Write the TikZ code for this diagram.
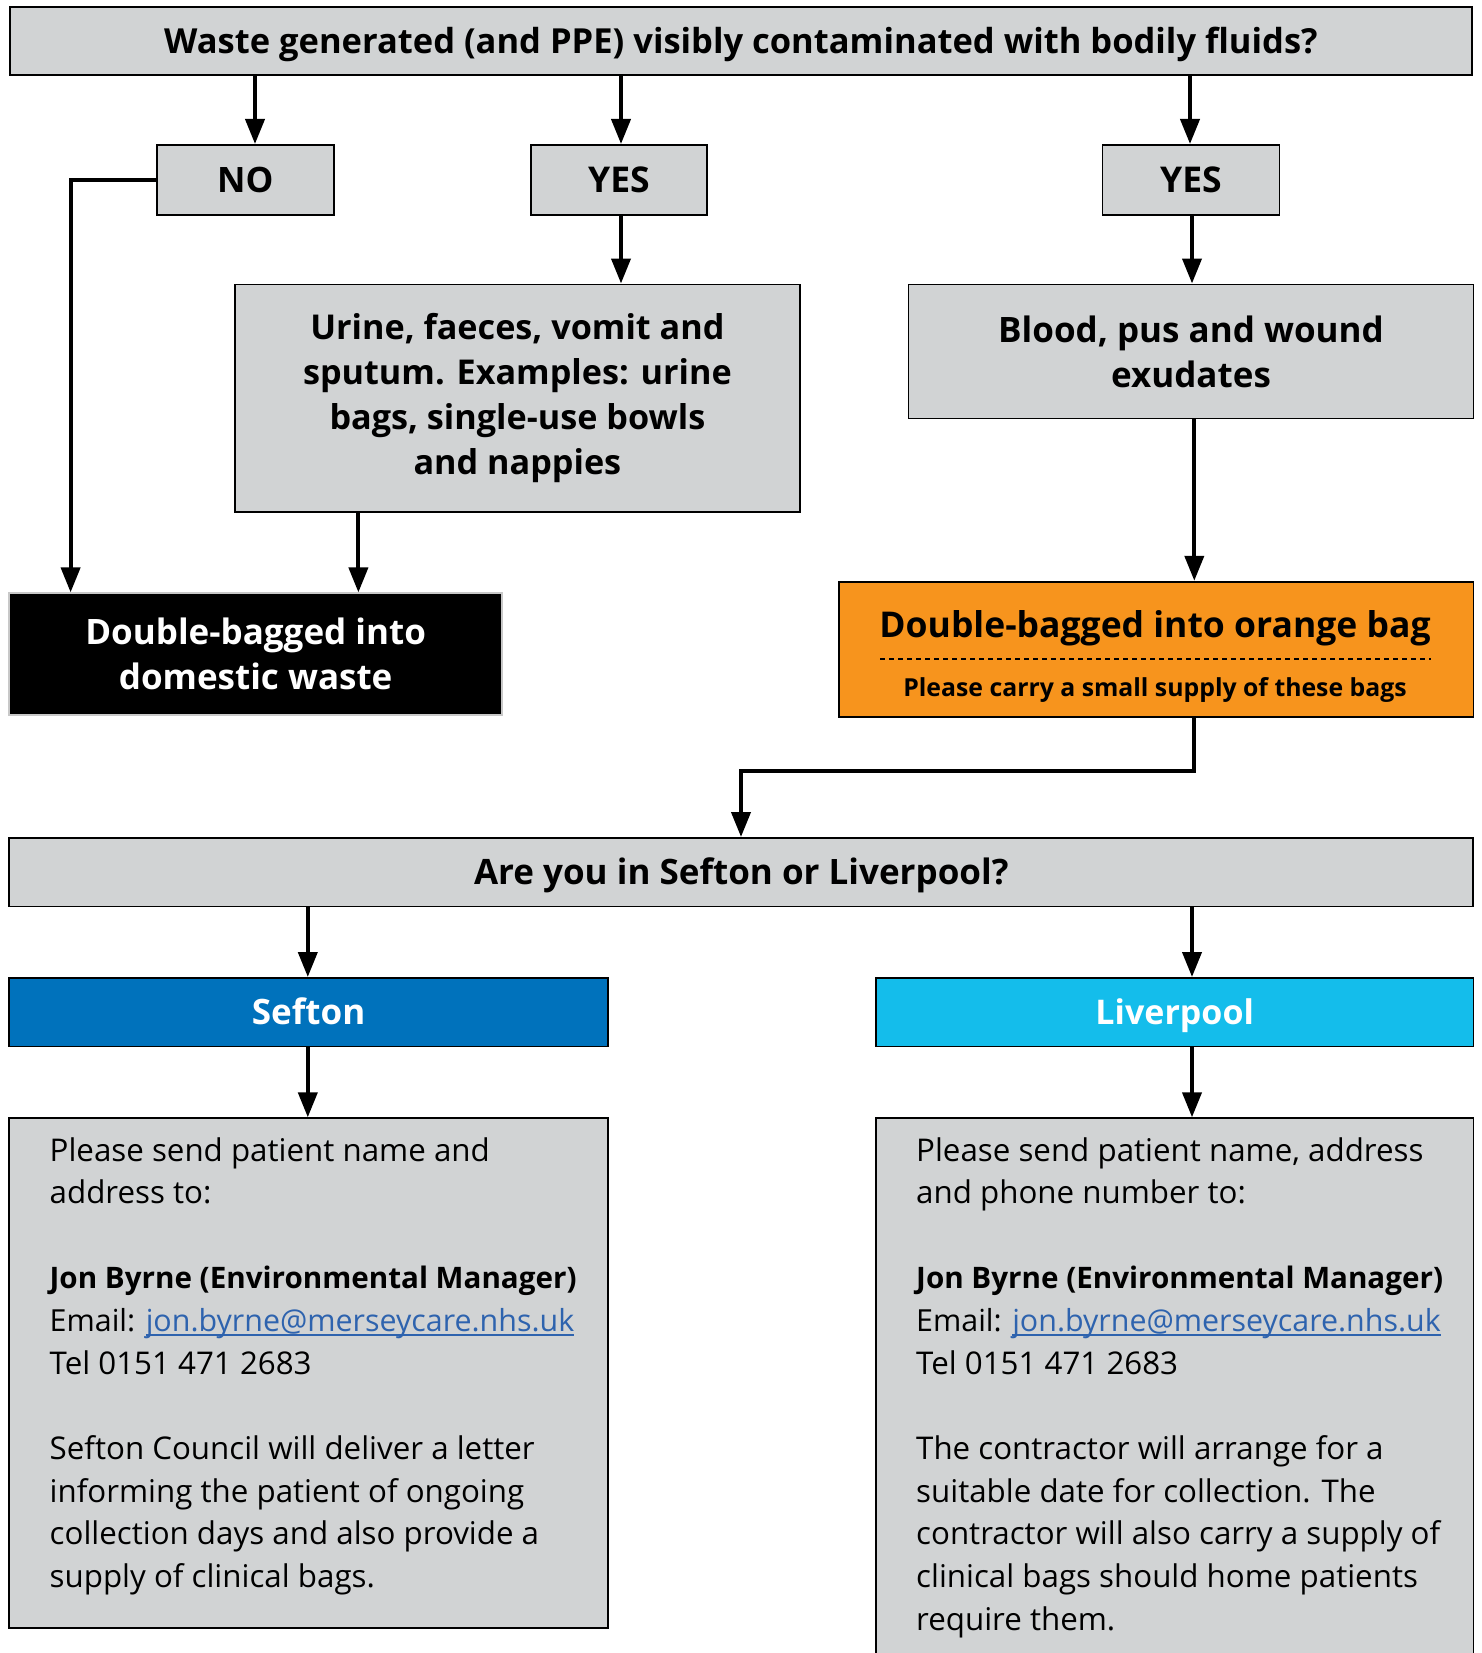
\documentclass[tikz,border=0pt]{standalone}
\usepackage{fontspec}
\setmainfont{Open Sans}
\usetikzlibrary{arrows.meta,calc}
\definecolor{boxgrey}{HTML}{D1D3D4}
\definecolor{bagorange}{HTML}{F7941D}
\definecolor{seftonblue}{HTML}{0072BC}
\definecolor{livblue}{HTML}{14BDEB}
\definecolor{linkblue}{HTML}{2E63AE}
\definecolor{edgegrey}{HTML}{C8C8C8}
\newcommand\myul[1]{\setbox0\hbox{#1}\rlap{\rule[-4pt]{\wd0}{1.6pt}}\box0}
\begin{document}
\begin{tikzpicture}[x=1pt,y=-1pt,
  box/.style={draw=black, line width=1.8pt, fill=boxgrey, inner sep=0pt, anchor=north west, align=center},
  oneline/.style={text height=#1, text depth=0pt},
  arr/.style={line width=4pt, -{Triangle[length=25pt,width=19pt]}},
  btxt/.style={font=\bfseries\fontsize{34.5}{45}\selectfont},
  body/.style={anchor=base west, inner sep=0pt, font=\fontsize{31.3}{42}\selectfont},
]
\useasboundingbox (0,0) rectangle (1481,1653);
\fill[white] (0,0) rectangle (1481,1653);

% boxes
\node[box, font=\bfseries\fontsize{34.5}{42}\selectfont, oneline=24.5pt, minimum width=1462pt, minimum height=68pt] (top) at (9,6) {Waste generated (and PPE) visibly contaminated with bodily fluids?};
\node[box, font=\bfseries\fontsize{35}{42}\selectfont, oneline=25pt, minimum width=177pt, minimum height=70pt] (no) at (156,144) {NO};
\node[box, font=\bfseries\fontsize{35.5}{42}\selectfont, oneline=25pt, minimum width=176pt, minimum height=70pt] (yesa) at (530,144) {YES};
\node[box, font=\bfseries\fontsize{35.5}{42}\selectfont, oneline=25pt, minimum width=177pt, minimum height=70pt] (yesb) at (1101.5,144) {YES};
\node[box, font=\bfseries\fontsize{34.2}{45}\selectfont, minimum width=565pt, minimum height=227.5pt] (urine) at (234,283.5) {Urine, faeces, vomit and\\sputum. Examples: urine\\bags, single-use bowls\\and nappies};
\node[box, font=\bfseries\fontsize{35}{45}\selectfont, minimum width=565pt, minimum height=134pt] (blood) at (907.6,283.5) {Blood, pus and wound\\exudates};
\node[box, font=\bfseries\fontsize{35}{45}\selectfont, fill=black, draw=edgegrey, line width=1.5pt, text=white, minimum width=493pt, minimum height=122pt] (dom) at (8.4,592.4) {Double-bagged into\\domestic waste};
\node[box, fill=bagorange, minimum width=634.6pt, minimum height=135pt] (orange) at (838,580.8) {};
\node[inner sep=0pt, font=\bfseries\fontsize{35.5}{40}\selectfont] (otitle) at (1155,628) {Double-bagged into orange bag};
\node[inner sep=0pt, font=\bfseries\fontsize{24.8}{30}\selectfont] (osub) at (1155,690) {Please carry a small supply of these bags};
\coordinate (dl) at (880,659);
\coordinate (dr) at (1431,659);
\draw[line width=1.3pt, dash pattern=on 5pt off 4pt] (dl) -- (dr);
\node[box, font=\bfseries\fontsize{35}{42}\selectfont, oneline=25pt, minimum width=1464pt, minimum height=68.5pt] (quest) at (8.4,837) {Are you in Sefton or Liverpool?};
\node[box, font=\bfseries\fontsize{35}{42}\selectfont, oneline=25pt, fill=seftonblue, text=white, minimum width=598.6pt, minimum height=68.6pt] (sefton) at (8.4,977) {Sefton};
\node[box, font=\bfseries\fontsize{34}{42}\selectfont, oneline=24.5pt, fill=livblue, text=white, minimum width=597.6pt, minimum height=68.6pt] (liv) at (875,977) {Liverpool};
\node[box, minimum width=598.6pt, minimum height=510pt] (sinfo) at (8.4,1117.3) {};
\node[box, minimum width=597.6pt, minimum height=580pt] (linfo) at (875,1117.3) {};

% arrows
\draw[arr] (255,0 |- top.south) -- (255,0 |- no.north);
\draw[arr] (621,0 |- top.south) -- (621,0 |- yesa.north);
\draw[arr] (1190,0 |- top.south) -- (1190,0 |- yesb.north);
\draw[arr] (621,0 |- yesa.south) -- (621,0 |- urine.north);
\draw[arr] (1192,0 |- yesb.south) -- (1192,0 |- blood.north);
\draw[arr, line join=miter] (no.west) -| (70.6,0 |- dom.north);
\draw[arr] (358.4,0 |- urine.south) -- (358.4,0 |- dom.north);
\draw[arr] (1194.3,0 |- blood.south) -- (1194.3,0 |- orange.north);
\coordinate (bend) at (1194.3,770.5);
\draw[arr, line join=miter] (1194.3,0 |- orange.south) -- (bend) -| (741,0 |- quest.north);
\draw[arr] (307.8,0 |- quest.south) -- (307.8,0 |- sefton.north);
\draw[arr] (1192,0 |- quest.south) -- (1192,0 |- liv.north);
\draw[arr] (307.8,0 |- sefton.south) -- (307.8,0 |- sinfo.north);
\draw[arr] (1192,0 |- liv.south) -- (1192,0 |- linfo.north);

% Sefton text
\node[body] (s0) at (49.5,1161) {Please send patient name and};
\node[body] (s1) at (49.5,1203.6) {address to:};
\node[body, font=\bfseries\fontsize{29.6}{42}\selectfont] (s3) at (49.5,1288.9) {Jon Byrne (Environmental Manager)};
\node[body, font=\fontsize{30.4}{42}\selectfont] (s4) at (49.5,1331.6) {Email: \textcolor{linkblue}{\myul{jon.byrne@merseycare.nhs.uk}}};
\node[body] (s5) at (49.5,1374.2) {Tel 0151 471 2683};
\node[body] (s7) at (49.5,1459.5) {Sefton Council will deliver a letter};
\node[body] (s8) at (49.5,1502.1) {informing the patient of ongoing};
\node[body] (s9) at (49.5,1544.8) {collection days and also provide a};
\node[body] (s10) at (49.5,1587.4) {supply of clinical bags.};

% Liverpool text
\node[body] (l0) at (916,1161) {Please send patient name, address};
\node[body] (l1) at (916,1203.6) {and phone number to:};
\node[body, font=\bfseries\fontsize{29.6}{42}\selectfont] (l3) at (916,1288.9) {Jon Byrne (Environmental Manager)};
\node[body, font=\fontsize{30.4}{42}\selectfont] (l4) at (916,1331.6) {Email: \textcolor{linkblue}{\myul{jon.byrne@merseycare.nhs.uk}}};
\node[body] (l5) at (916,1374.2) {Tel 0151 471 2683};
\node[body] (l7) at (916,1459.5) {The contractor will arrange for a};
\node[body] (l8) at (916,1502.1) {suitable date for collection. The};
\node[body] (l9) at (916,1544.8) {contractor will also carry a supply of};
\node[body] (l10) at (916,1587.4) {clinical bags should home patients};
\node[body] (l11) at (916,1630) {require them.};
\end{tikzpicture}
\end{document}
